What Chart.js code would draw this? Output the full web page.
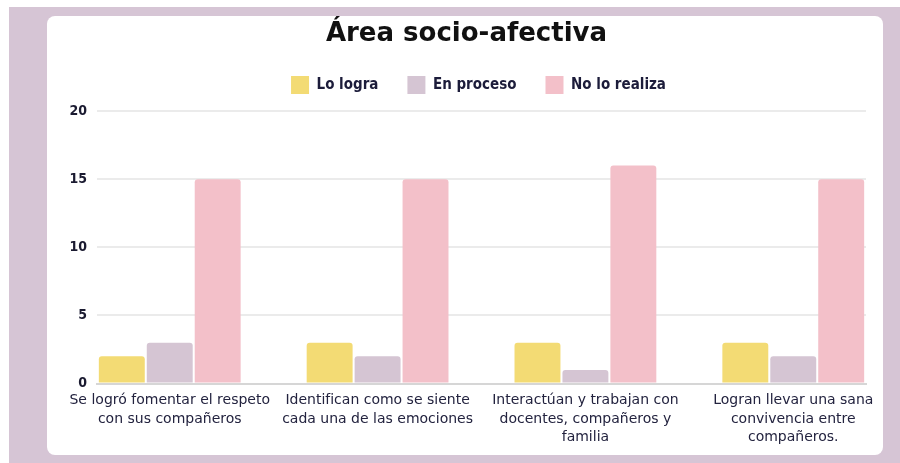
<!DOCTYPE html>
<html lang="es">
<head>
    <meta charset="UTF-8">
    <title>Área socio-afectiva</title>
    <script src="https://cdn.jsdelivr.net/npm/chart.js"></script>
    <style>
        body {
            margin: 0;
            background-color: #fff;
            width: 900px;
            height: 463px;
            position: relative;
            overflow: hidden;
        }
        .fondo {
            position: absolute;
            left: 9px;
            top: 7px;
            width: 891px;
            height: 456px;
            background-color: #d6c5d5;
        }
        .tarjeta {
            position: absolute;
            left: 47px;
            top: 16px;
            width: 836px;
            height: 439px;
            background-color: #fff;
            border-radius: 8px;
        }
    </style>
</head>
<body>
    <div class="fondo"></div>
    <div class="tarjeta">
        <canvas id="grafico" width="836" height="439"></canvas>
    </div>

    <script>
        const categorias = [
            ["Se logró fomentar el respeto", "con sus compañeros"],
            ["Identifican como se siente", "cada una de las emociones"],
            ["Interactúan y trabajan con", "docentes, compañeros y", "familia"],
            ["Logran llevar una sana", "convivencia entre", "compañeros."]
        ];
        const loLogra = [2, 3, 3, 3];
        const enProceso = [3, 2, 1, 2];
        const noLoRealiza = [15, 15, 16, 15];
        const ticksY = [0, 5, 10, 15, 20];

        const fuenteNarrow = "'Liberation Sans Narrow', 'DejaVu Sans Condensed', sans-serif";

        function serie(nombre, datos, color) {
            return {
                label: nombre,
                data: datos,
                backgroundColor: color,
                borderWidth: 0,
                borderRadius: { topLeft: 3, topRight: 3 },
                borderSkipped: 'bottom',
                categoryPercentage: 0.692,
                barPercentage: 0.958
            };
        }

        // deja más aire bajo la leyenda y la corre un poco a la derecha
        const ajusteLeyenda = {
            id: 'ajusteLeyenda',
            beforeInit(chart) {
                const fitOriginal = chart.legend.fit;
                chart.legend.fit = function () {
                    fitOriginal.bind(chart.legend)();
                    this.height += 7;
                };
            },
            afterLayout(chart) {
                chart.legend.left += 12;
                chart.legend.right += 12;
            }
        };

        new Chart(document.getElementById('grafico'), {
            type: 'bar',
            data: {
                labels: categorias,
                datasets: [
                    serie('Lo logra', loLogra, '#f3db74'),
                    serie('En proceso', enProceso, '#d5c5d3'),
                    serie('No lo realiza', noLoRealiza, '#f3c0c9')
                ]
            },
            plugins: [ajusteLeyenda],
            options: {
                responsive: false,
                animation: false,
                layout: { padding: { left: 20, right: 17, top: 5, bottom: 0 } },
                plugins: {
                    title: {
                        display: true,
                        text: 'Área socio-afectiva',
                        color: '#111',
                        font: { family: "'DejaVu Sans', sans-serif", size: 26, weight: 'bold', lineHeight: 1.0 },
                        padding: { top: 0, bottom: 0 }
                    },
                    legend: {
                        labels: {
                            boxWidth: 18,
                            boxHeight: 18,
                            padding: 29,
                            color: '#1c1c3a',
                            font: { family: fuenteNarrow, size: 15, weight: 'bold' }
                        }
                    },
                    tooltip: { enabled: false }
                },
                scales: {
                    x: {
                        afterBuildTicks: (s) => { s._startValue = -0.35; s._valueRange = 3.7; },
                        grid: { display: false, drawTicks: false },
                        border: { display: true, color: '#d6d6d6', width: 2 },
                        ticks: {
                            autoSkip: false,
                            maxRotation: 0,
                            padding: 8,
                            color: '#23233f',
                            font: { family: "'DejaVu Sans', sans-serif", size: 14, lineHeight: 1.32 }
                        }
                    },
                    y: {
                        min: 0,
                        max: 20,
                        afterFit: (s) => { s.width = 30; },
                        afterBuildTicks: (s) => { s.ticks = ticksY.map(v => ({ value: v })); },
                        grid: { color: '#ebebeb', lineWidth: 2, drawTicks: false },
                        border: { display: false },
                        ticks: {
                            padding: 10,
                            color: '#1a1a30',
                            font: { family: fuenteNarrow, size: 14, weight: 'bold' }
                        }
                    }
                }
            }
        });
    </script>
</body>
</html>
